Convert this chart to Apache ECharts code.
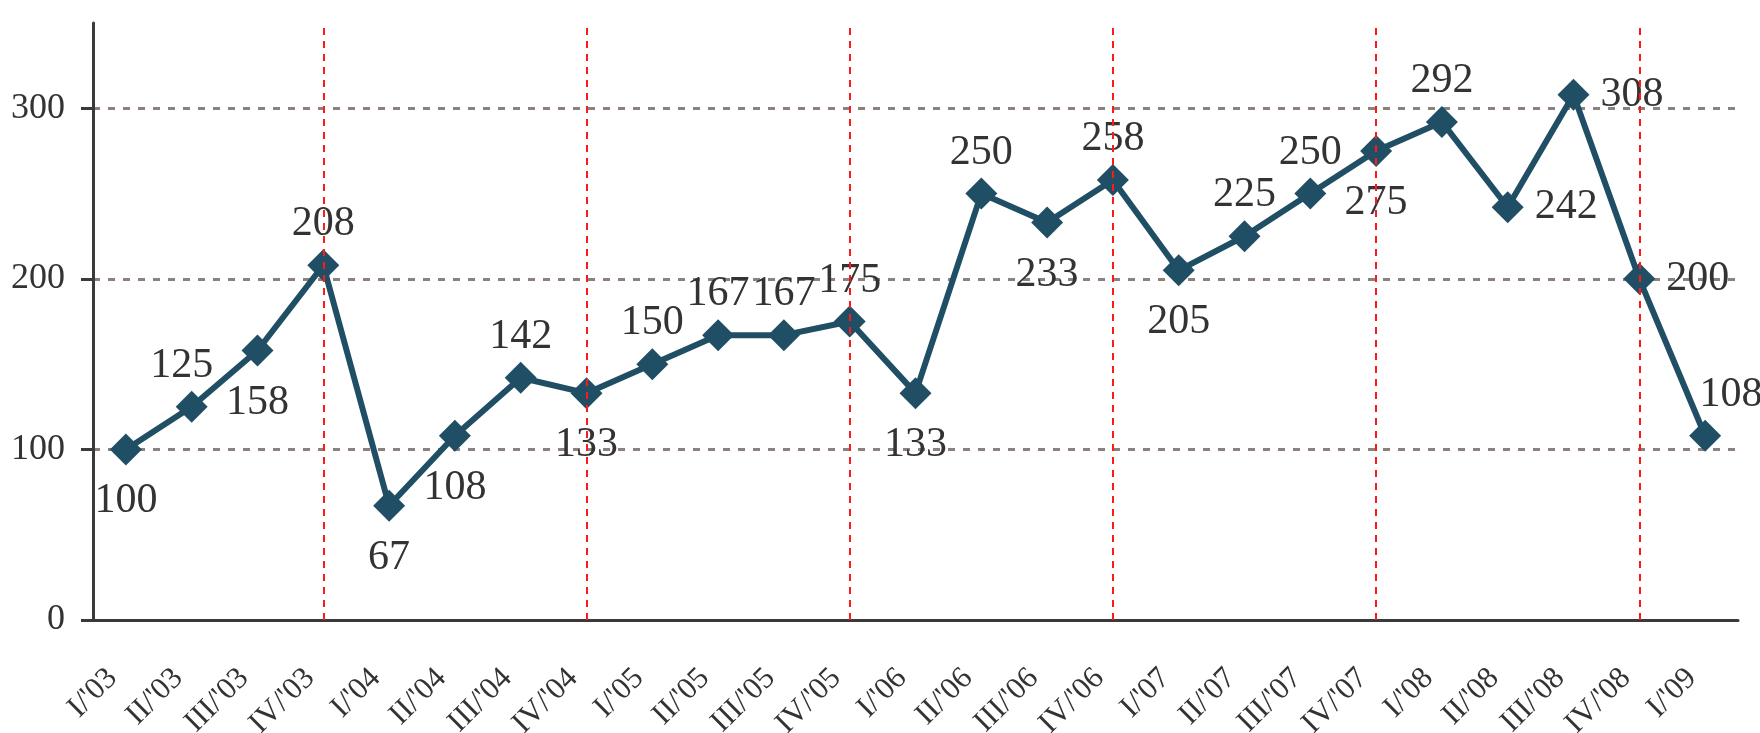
<!DOCTYPE html>
<html>
<head>
<meta charset="utf-8">
<script src="https://cdn.jsdelivr.net/npm/echarts@6/dist/echarts.min.js"></script>
<style>
  html, body { margin: 0; padding: 0; background: #fff; }
  #chart { width: 1760px; height: 733px; }
</style>
</head>
<body>
<div id="chart"></div>
<script>
const quarters = [
  "I/'03", "II/'03", "III/'03", "IV/'03",
  "I/'04", "II/'04", "III/'04", "IV/'04",
  "I/'05", "II/'05", "III/'05", "IV/'05",
  "I/'06", "II/'06", "III/'06", "IV/'06",
  "I/'07", "II/'07", "III/'07", "IV/'07",
  "I/'08", "II/'08", "III/'08", "IV/'08",
  "I/'09"
]
const values = [
  100, 125, 158, 208,
  67, 108, 142, 133,
  150, 167, 167, 175,
  133, 250, 233, 258,
  205, 225, 250, 275,
  292, 242, 308, 200,
  108
]
// year boundaries are marked on the Q4 points
const yearEnds = ["IV/'03", "IV/'04", "IV/'05", "IV/'06", "IV/'07", "IV/'08"]
const yTicks = [0, 100, 200, 300]

// where each value label sits relative to its marker
const labelPlace = [
  'bottom', 'top', 'bottom', 'top',
  'bottom', 'bottom', 'top', 'bottom',
  'top', 'top', 'top', 'top',
  'bottom', 'top', 'bottom', 'top',
  'bottom', 'top', 'top', 'bottom',
  'top', 'right', 'right', 'right',
  'top'
]
const labelShift = { 1: [-10, 0], 24: [26, 0] }
const placeDistance = { top: 4, bottom: 15, right: 11 }

const font = 'Liberation Serif'
const textColor = '#333333'
const axisColor = '#3a3a3a'
const lineColor = '#204f65'

const chart = echarts.init(document.getElementById('chart'))
chart.setOption({
  animation: false,
  grid: { left: 93, right: 22, top: 23, bottom: 113, outerBoundsMode: 'none', containLabel: false },
  xAxis: {
    type: 'category',
    data: quarters,
    axisLine: { lineStyle: { color: axisColor, width: 3 } },
    axisTick: { length: 10, lineStyle: { color: axisColor, width: 3 } },
    axisLabel: {
      rotate: 45,
      margin: 40,
      padding: [0, 19, 0, 0],
      interval: 0,
      fontFamily: font,
      fontSize: 31,
      color: textColor
    }
  },
  yAxis: {
    type: 'value',
    min: 0,
    max: 350,
    axisLine: { show: true, lineStyle: { color: axisColor, width: 3 } },
    axisTick: { show: true, length: 12, customValues: yTicks, lineStyle: { color: axisColor, width: 3 } },
    axisLabel: {
      customValues: yTicks,
      margin: 28,
      fontFamily: font,
      fontSize: 36,
      color: textColor
    },
    splitLine: {
      lineStyle: { color: '#8c817d', width: 3, type: [7, 8] }
    }
  },
  series: [{
    type: 'line',
    data: values.map((v, i) => ({
      value: v,
      label: {
        position: labelPlace[i],
        distance: placeDistance[labelPlace[i]],
        offset: labelShift[i] || [0, 0]
      }
    })),
    symbol: 'diamond',
    symbolSize: 32,
    lineStyle: { color: lineColor, width: 6 },
    itemStyle: { color: lineColor },
    label: {
      show: true,
      fontFamily: font,
      fontSize: 42,
      color: textColor
    },
    markLine: {
      silent: true,
      symbol: 'none',
      label: { show: false },
      lineStyle: { color: '#ff1a1a', width: 2, type: [7, 6] },
      data: yearEnds.map(q => ({ xAxis: q }))
    }
  }]
})
</script>
</body>
</html>
